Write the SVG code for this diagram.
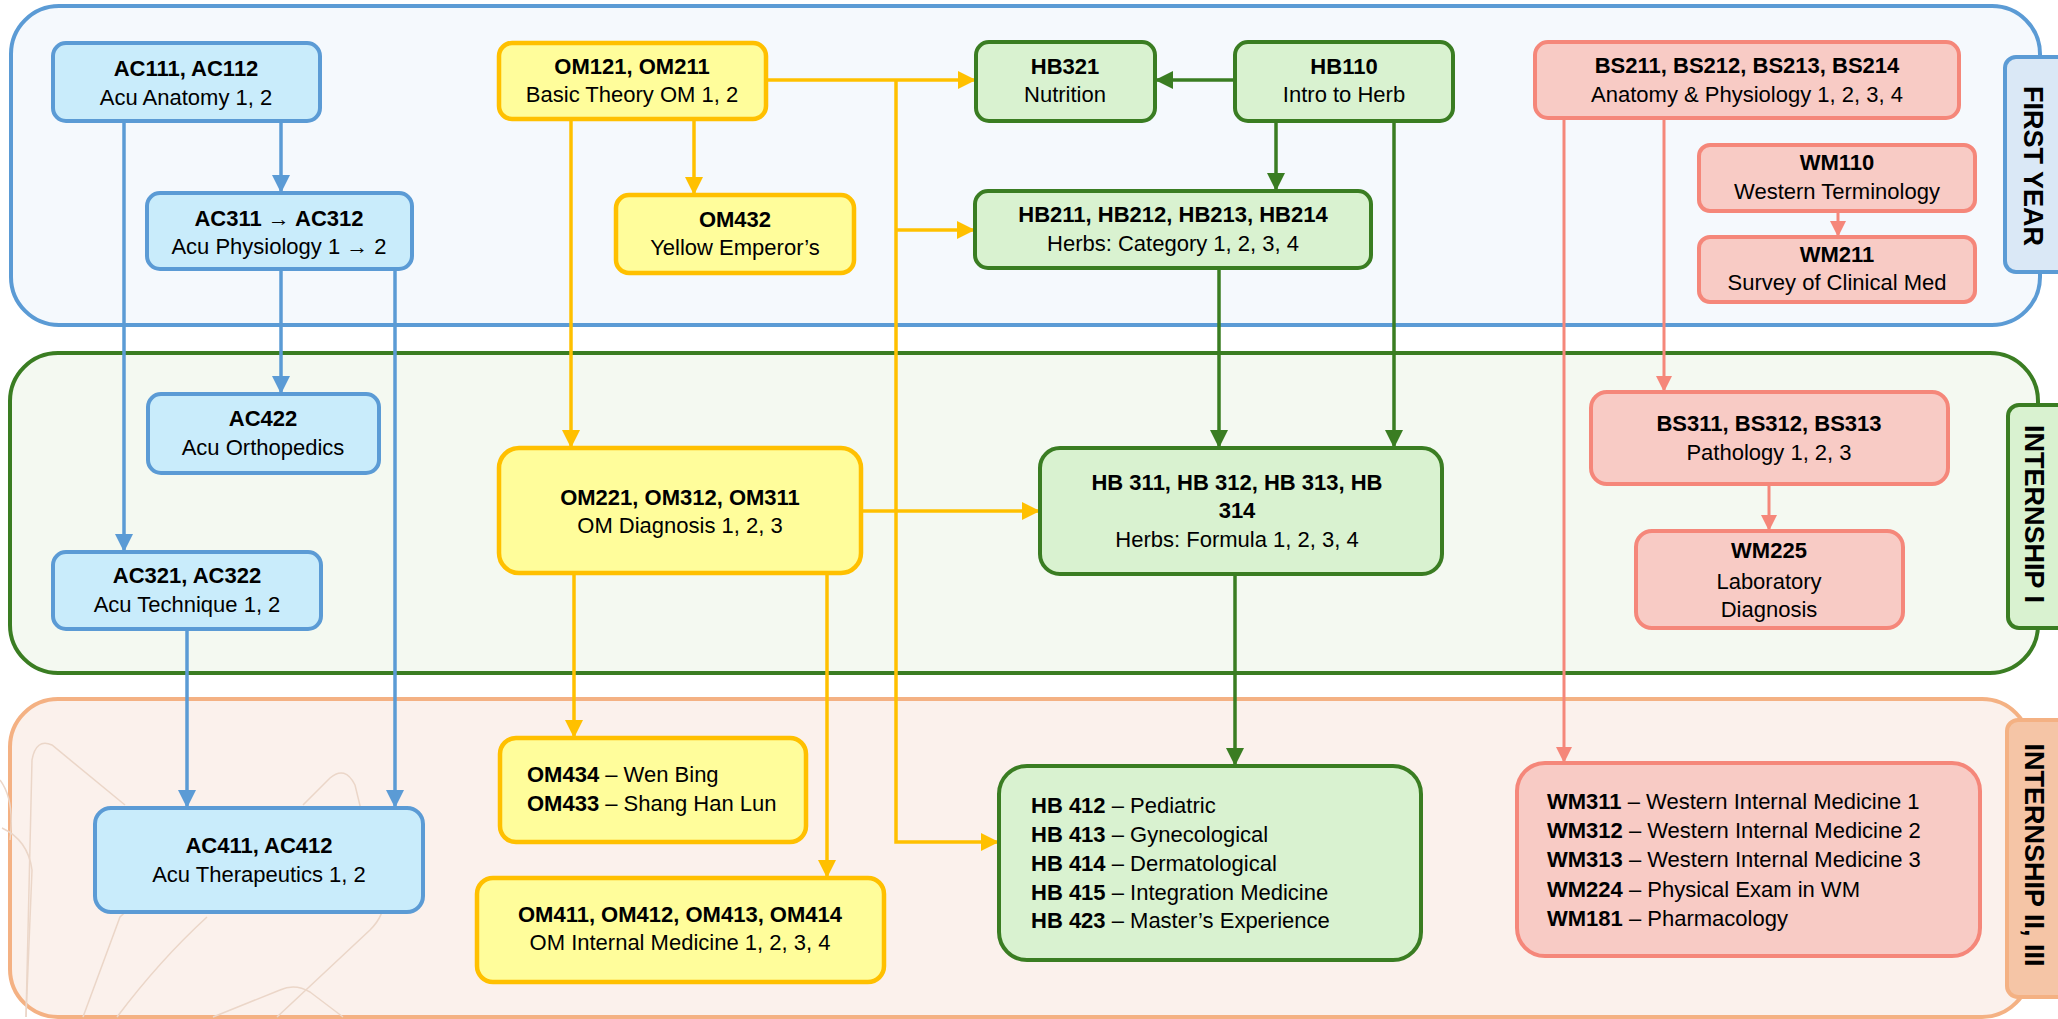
<svg xmlns="http://www.w3.org/2000/svg" width="2058" height="1019" viewBox="0 0 2058 1019">
<defs>
<style>
text{font-family:"Liberation Sans",Arial,sans-serif;font-size:22px;fill:#000}
.b{font-weight:bold}
.c{text-anchor:middle}
.lab{font-weight:bold;font-size:27px;text-anchor:middle;dominant-baseline:central}
.blue{fill:#C9ECFB;stroke:#5B9BD5;stroke-width:4}
.yel{fill:#FFFD9B;stroke:#FFC000;stroke-width:4.5}
.grn{fill:#D9F2D0;stroke:#3A7D22;stroke-width:4}
.sal{fill:#F8CBC5;stroke:#F5877A;stroke-width:4}
.cb{stroke:#5B9BD5;stroke-width:3.5;fill:none;marker-end:url(#ab)}
.cy{stroke:#FFC000;stroke-width:3.5;fill:none}
.cya{stroke:#FFC000;stroke-width:3.5;fill:none;marker-end:url(#ay)}
.cg{stroke:#3A7D22;stroke-width:3.5;fill:none;marker-end:url(#ag)}
.cs{stroke:#F5877A;stroke-width:3;fill:none;marker-end:url(#as)}
.deco{fill:none;stroke:#EBD6C8;stroke-width:1.5}
</style>
<marker id="ab" markerUnits="userSpaceOnUse" markerWidth="18" markerHeight="18" viewBox="0 0 18 18" refX="18" refY="9" orient="auto"><path d="M0,0 L18,9 L0,18 z" fill="#5B9BD5"/></marker>
<marker id="ay" markerUnits="userSpaceOnUse" markerWidth="18" markerHeight="18" viewBox="0 0 18 18" refX="18" refY="9" orient="auto"><path d="M0,0 L18,9 L0,18 z" fill="#FFC000"/></marker>
<marker id="ag" markerUnits="userSpaceOnUse" markerWidth="18" markerHeight="18" viewBox="0 0 18 18" refX="18" refY="9" orient="auto"><path d="M0,0 L18,9 L0,18 z" fill="#3A7D22"/></marker>
<marker id="as" markerUnits="userSpaceOnUse" markerWidth="16" markerHeight="16" viewBox="0 0 16 16" refX="16" refY="8" orient="auto"><path d="M0,0 L16,8 L0,16 z" fill="#F5877A"/></marker>
</defs>
<rect width="2058" height="1019" fill="#FFFFFF"/>

<g id="panels">
<rect id="panel-first-year" x="11" y="6" width="2029" height="319" rx="48" fill="#F5F9FD" stroke="#5B9BD5" stroke-width="4"/>
<rect id="panel-internship1" x="10" y="353" width="2028" height="320" rx="48" fill="#F4F9F1" stroke="#3A7D22" stroke-width="4"/>
<rect id="panel-internship2" x="10" y="699" width="2020" height="318" rx="48" fill="#FBF1EC" stroke="#F4B183" stroke-width="4"/>
<g id="deco">
<path class="deco" d="M26,1017 L32,760 Q36,738 52,745 L125,805"/>
<path class="deco" d="M2,828 Q28,840 32,870 L26,1017"/>
<path class="deco" d="M83,1017 L120,917 L160,880"/>
<path class="deco" d="M117,1017 Q160,960 207,917"/>
<path class="deco" d="M303,805 L330,778 Q345,765 355,785 L383,900 Q385,915 370,930 L277,1017"/>
<path class="deco" d="M213,1017 L280,990 Q295,983 310,992 L343,1017"/>
<path class="deco" d="M0,780 Q15,800 10,840"/>
</g>
</g>

<g id="labels">
<g id="label-first-year"><rect x="2005" y="57" width="70" height="215" rx="11" fill="#DAE8F6" stroke="#5B9BD5" stroke-width="4"/><text class="lab" transform="rotate(90 2033 166)" x="2033" y="166">FIRST YEAR</text></g>
<g id="label-internship1"><rect x="2008" y="405" width="70" height="223" rx="11" fill="#D9F2D0" stroke="#3A7D22" stroke-width="4"/><text class="lab" transform="rotate(90 2034 514)" x="2034" y="514">INTERNSHIP I</text></g>
<g id="label-internship2"><rect x="2007" y="720" width="70" height="277" rx="11" fill="#F5C5A6" stroke="#F4B183" stroke-width="4"/><text class="lab" transform="rotate(90 2034 855)" x="2034" y="855">INTERNSHIP II, III</text></g>
</g>

<g id="connectors">
<path class="cb" d="M281,121 V193"/>
<path class="cb" d="M124,121 V552"/>
<path class="cb" d="M281,269 V394"/>
<path class="cb" d="M395,269 V808"/>
<path class="cb" d="M187,629 V808"/>
<path class="cya" d="M766,80 H976"/>
<path class="cya" d="M896,80 V842 H999"/>
<path class="cya" d="M896,230 H975"/>
<path class="cya" d="M694,119 V195"/>
<path class="cya" d="M571,119 V448"/>
<path class="cya" d="M861,511 H1040"/>
<path class="cya" d="M574,573 V738"/>
<path class="cya" d="M827,573 V878"/>
<path class="cg" d="M1235,80 H1155"/>
<path class="cg" d="M1276,121 V191"/>
<path class="cg" d="M1394,121 V448"/>
<path class="cg" d="M1219,268 V448"/>
<path class="cg" d="M1235,574 V766"/>
<path class="cs" d="M1564,118 V763"/>
<path class="cs" d="M1664,118 V392"/>
<path class="cs" d="M1838,211 V237"/>
<path class="cs" d="M1769,484 V531"/>
</g>

<g id="AC111"><rect class="blue" x="53" y="43" width="267" height="78" rx="13"/><text class="b c" x="186" y="76">AC111, AC112</text><text class="c" x="186" y="105">Acu Anatomy 1, 2</text></g>
<g id="AC311"><rect class="blue" x="147" y="193" width="265" height="76" rx="13"/><text class="b c" x="279" y="226">AC311 → AC312</text><text class="c" x="279" y="254">Acu Physiology 1 → 2</text></g>
<g id="AC422"><rect class="blue" x="148" y="394" width="231" height="79" rx="13"/><text class="b c" x="263" y="426">AC422</text><text class="c" x="263" y="455">Acu Orthopedics</text></g>
<g id="AC321"><rect class="blue" x="53" y="552" width="268" height="77" rx="13"/><text class="b c" x="187" y="583">AC321, AC322</text><text class="c" x="187" y="612">Acu Technique 1, 2</text></g>
<g id="AC411"><rect class="blue" x="95" y="808" width="328" height="104" rx="16"/><text class="b c" x="259" y="853">AC411, AC412</text><text class="c" x="259" y="882">Acu Therapeutics 1, 2</text></g>

<g id="OM121"><rect class="yel" x="499" y="43" width="267" height="76" rx="13"/><text class="b c" x="632" y="74">OM121, OM211</text><text class="c" x="632" y="102">Basic Theory OM 1, 2</text></g>
<g id="OM432"><rect class="yel" x="616" y="195" width="238" height="78" rx="13"/><text class="b c" x="735" y="227">OM432</text><text class="c" x="735" y="255">Yellow Emperor’s</text></g>
<g id="OM221"><rect class="yel" x="499" y="448" width="362" height="125" rx="20"/><text class="b c" x="680" y="505">OM221, OM312, OM311</text><text class="c" x="680" y="533">OM Diagnosis 1, 2, 3</text></g>
<g id="OM434"><rect class="yel" x="500" y="738" width="306" height="104" rx="16"/><text x="527" y="782"><tspan class="b">OM434</tspan> – Wen Bing</text><text x="527" y="811"><tspan class="b">OM433</tspan> – Shang Han Lun</text></g>
<g id="OM411"><rect class="yel" x="477" y="878" width="407" height="104" rx="16"/><text class="b c" x="680" y="922">OM411, OM412, OM413, OM414</text><text class="c" x="680" y="950">OM Internal Medicine 1, 2, 3, 4</text></g>

<g id="HB321"><rect class="grn" x="976" y="42" width="179" height="79" rx="13"/><text class="b c" x="1065" y="74">HB321</text><text class="c" x="1065" y="102">Nutrition</text></g>
<g id="HB110"><rect class="grn" x="1235" y="42" width="218" height="79" rx="13"/><text class="b c" x="1344" y="74">HB110</text><text class="c" x="1344" y="102">Intro to Herb</text></g>
<g id="HB211"><rect class="grn" x="975" y="191" width="396" height="77" rx="13"/><text class="b c" x="1173" y="222">HB211, HB212, HB213, HB214</text><text class="c" x="1173" y="251">Herbs: Category 1, 2, 3, 4</text></g>
<g id="HB311"><rect class="grn" x="1040" y="448" width="402" height="126" rx="20"/><text class="b c" x="1237" y="490">HB 311, HB 312, HB 313, HB</text><text class="b c" x="1237" y="518">314</text><text class="c" x="1237" y="547">Herbs: Formula 1, 2, 3, 4</text></g>
<g id="HB412"><rect class="grn" x="999" y="766" width="422" height="194" rx="28"/>
<text x="1031" y="813"><tspan class="b">HB 412</tspan> – Pediatric</text>
<text x="1031" y="842"><tspan class="b">HB 413</tspan> – Gynecological</text>
<text x="1031" y="871"><tspan class="b">HB 414</tspan> – Dermatological</text>
<text x="1031" y="900"><tspan class="b">HB 415</tspan> – Integration Medicine</text>
<text x="1031" y="928"><tspan class="b">HB 423</tspan> – Master’s Experience</text></g>

<g id="BS211"><rect class="sal" x="1535" y="42" width="424" height="76" rx="13"/><text class="b c" x="1747" y="73">BS211, BS212, BS213, BS214</text><text class="c" x="1747" y="102">Anatomy &amp; Physiology 1, 2, 3, 4</text></g>
<g id="WM110"><rect class="sal" x="1699" y="145" width="276" height="66" rx="11"/><text class="b c" x="1837" y="170">WM110</text><text class="c" x="1837" y="199">Western Terminology</text></g>
<g id="WM211"><rect class="sal" x="1699" y="237" width="276" height="65" rx="11"/><text class="b c" x="1837" y="262">WM211</text><text class="c" x="1837" y="290">Survey of Clinical Med</text></g>
<g id="BS311"><rect class="sal" x="1591" y="392" width="357" height="92" rx="16"/><text class="b c" x="1769" y="431">BS311, BS312, BS313</text><text class="c" x="1769" y="460">Pathology 1, 2, 3</text></g>
<g id="WM225"><rect class="sal" x="1636" y="531" width="267" height="97" rx="16"/><text class="b c" x="1769" y="558">WM225</text><text class="c" x="1769" y="589">Laboratory</text><text class="c" x="1769" y="617">Diagnosis</text></g>
<g id="WM311"><rect class="sal" x="1517" y="763" width="463" height="193" rx="28"/>
<text x="1547" y="809"><tspan class="b">WM311</tspan> – Western Internal Medicine 1</text>
<text x="1547" y="838"><tspan class="b">WM312</tspan> – Western Internal Medicine 2</text>
<text x="1547" y="867"><tspan class="b">WM313</tspan> – Western Internal Medicine 3</text>
<text x="1547" y="897"><tspan class="b">WM224</tspan> – Physical Exam in WM</text>
<text x="1547" y="926"><tspan class="b">WM181</tspan> – Pharmacology</text></g>
</svg>
